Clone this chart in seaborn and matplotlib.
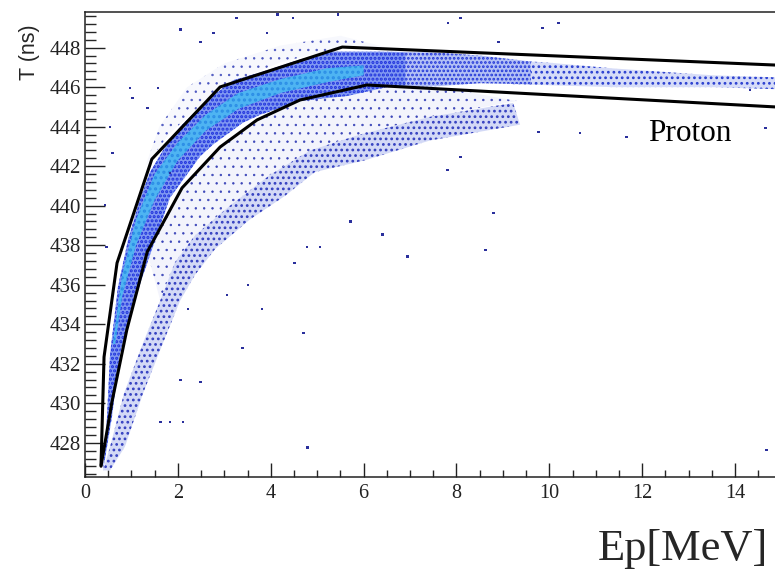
import numpy as np
import pandas as pd
import matplotlib
matplotlib.use("Agg")
import matplotlib.pyplot as plt
import seaborn as sns

# ---- graphical cut (TCutG) vertices ----
upper_cut_ep = [0.345, 0.41, 0.69, 1.44, 2.91, 5.54, 14.86]
upper_cut_t = [426.87, 432.34, 437.10, 442.36, 446.01, 448.03, 447.12]
lower_cut_ep = [0.345, 0.58, 0.90, 1.34, 2.09, 2.91, 3.705, 4.63, 6.07, 14.86]
lower_cut_t = [426.81, 430.06, 433.71, 437.66, 440.90, 442.97, 444.34, 445.35, 446.11, 445.0]

# ---- main proton band outline (dense region) ----
band_top_ep = [0.39, 0.47, 0.54, 0.71, 0.93, 1.18, 1.40, 1.68, 2.05, 2.63, 3.19, 3.92, 4.63, 5.28, 6.35, 6.9]
band_top_t = [426.6, 429.15, 432.5, 435.9, 438.3, 440.3, 441.7, 442.8, 444.0, 445.35, 446.35, 446.85, 447.4, 447.8, 447.8, 447.75]
band_bot_ep = [6.9, 6.5, 5.64, 4.63, 3.77, 3.40, 2.76, 2.48, 1.83, 1.62, 1.18, 0.75, 0.58, 0.39]
band_bot_t = [446.05, 446.0, 445.55, 445.3, 444.6, 444.2, 443.1, 442.5, 440.4, 439.0, 436.0, 432.5, 429.3, 426.6]

# fading part of main band
mid_top_ep = [6.5, 7.6, 8.51, 9.6]
mid_top_t = [447.8, 447.75, 447.6, 447.3]
mid_bot_ep = [9.6, 8.51, 7.6, 6.5]
mid_bot_t = [446.15, 446.2, 446.05, 446.0]

# sparse tail of main band
tail_top_ep = [9.2, 9.95, 11.37, 13.53, 14.86]
tail_top_t = [447.35, 447.25, 446.95, 446.6, 446.5]
tail_bot_ep = [14.86, 13.53, 11.37, 9.95, 9.2]
tail_bot_t = [445.9, 446.0, 446.0, 446.1, 446.15]

# core of the band (highest counts)
core_top_ep = [0.6, 0.8, 1.1, 1.5, 2.0, 2.6, 3.3, 4.2, 5.2, 6.0]
core_top_t = [433.0, 436.5, 439.3, 441.6, 443.2, 444.6, 445.7, 446.4, 446.95, 447.1]
core_bot_ep = [6.0, 5.2, 4.2, 3.3, 2.6, 2.0, 1.5, 1.1, 0.8, 0.65]
core_bot_t = [446.6, 446.25, 445.7, 444.9, 443.8, 442.3, 440.3, 438.0, 435.4, 433.0]

# secondary (lower) branch
sec_top_ep = [0.39, 0.54, 0.84, 1.25, 1.62, 1.94, 2.37, 3.12, 3.98, 4.85, 5.92, 7.43, 9.22]
sec_top_t = [426.6, 427.8, 430.5, 433.05, 435.2, 437.15, 438.5, 440.0, 441.55, 442.8, 443.6, 444.5, 445.2]
sec_bot_ep = [9.37, 7.43, 6.03, 4.95, 4.31, 3.55, 2.80, 2.37, 2.05, 1.68, 1.25, 0.86, 0.54]
sec_bot_t = [444.1, 443.3, 442.3, 441.7, 440.5, 439.3, 437.8, 436.5, 435.2, 433.05, 430.5, 427.8, 426.6]

# diffuse events between the cut and the secondary branch
gap_ep = [1.34, 2.09, 2.91, 3.705, 4.63, 6.07, 8.0, 9.3, 7.43, 5.92, 4.85, 3.98, 3.12, 2.37, 1.94, 1.62]
gap_t = [437.66, 440.90, 442.97, 444.34, 445.35, 446.11, 445.85, 445.3, 444.5, 443.6, 442.8, 441.55, 440.0, 438.5, 437.15, 435.2]

# sparse events just above the upper cut
halo_ep = [1.3, 1.8, 2.91, 4.2, 5.54, 6.6, 5.5, 4.2, 3.0, 2.2, 1.6]
halo_t = [442.0, 443.6, 446.01, 447.25, 448.03, 447.95, 448.6, 448.1, 447.2, 446.0, 444.0]

# isolated events
stray_ep = [4.48, 5.45, 7.82, 8.08, 10.19, 9.86, 8.90, 8.79, 5.71, 6.40, 5.06, 4.78, 4.52, 6.94,
            8.62, 8.08, 7.80, 11.67, 10.66, 9.76, 14.65, 14.32, 4.70, 4.80, 14.67, 3.81, 3.40,
            3.06, 2.48, 2.05, 2.11, 1.83, 1.62, 3.51, 2.22, 4.14, 3.27, 2.05, 2.48, 2.76, 3.92,
            1.03, 0.97, 1.57, 1.34, 0.60, 0.54, 0.43, 0.47, 1.83]
stray_t = [449.50, 449.66, 449.25, 449.50, 449.25, 449.00, 448.29, 439.63, 439.18, 438.53, 437.91,
           437.91, 437.10, 437.41, 437.76, 442.47, 441.81, 443.48, 443.68, 443.73, 443.93, 445.86,
           433.56, 427.74, 427.63, 434.77, 432.80, 435.48, 431.07, 431.18, 429.05, 429.05, 429.05,
           435.99, 434.77, 449.66, 449.50, 448.90, 448.29, 448.74, 448.74, 445.45, 445.96, 445.96,
           444.95, 442.67, 443.98, 440.03, 437.91, 441.66]

x_ticks = [0, 2, 4, 6, 8, 10, 12, 14]
y_ticks = [428, 430, 432, 434, 436, 438, 440, 442, 444, 446, 448]

sns.set_theme(style="white")
plt.rcParams["font.family"] = ["Liberation Serif", "DejaVu Serif"]

fig = plt.figure(figsize=(7.75, 5.70), dpi=100)
ax = fig.add_axes([85 / 775, 1 - 477.3 / 570, 1 - 85 / 775, (477.3 - 11.7) / 570])

# diffuse region & halo (sparse dots)
plt.rcParams["hatch.linewidth"] = 0.5
ax.fill(gap_ep, gap_t, facecolor="#f3f4fc", edgecolor="#3a44b8", hatch="..",
        linewidth=0, zorder=1)
ax.fill(halo_ep, halo_t, facecolor="#f7f8fd", edgecolor="#4a55c0", hatch="..",
        linewidth=0, zorder=1)

# secondary branch
plt.rcParams["hatch.linewidth"] = 1.2
ax.fill(sec_top_ep + sec_bot_ep, sec_top_t + sec_bot_t, facecolor="#d3d9f6",
        edgecolor="#3440c0", hatch="...", linewidth=0, zorder=2)

# sparse tail
ax.fill(tail_top_ep + tail_bot_ep, tail_top_t + tail_bot_t, facecolor="#d6dcf8",
        edgecolor="#2a3fd0", hatch="...", linewidth=0, zorder=2)

# fading middle part
plt.rcParams["hatch.linewidth"] = 1.3
ax.fill(mid_top_ep + mid_bot_ep, mid_top_t + mid_bot_t, facecolor="#b3c0f5",
        edgecolor="#2236d8", hatch="....", linewidth=0, zorder=2.5)

# main band
plt.rcParams["hatch.linewidth"] = 1.5
ax.fill(band_top_ep + band_bot_ep, band_top_t + band_bot_t, facecolor="#8098f2",
        edgecolor="#1d30dc", hatch="....", linewidth=0, zorder=3)
ax.fill(core_top_ep + core_bot_ep, core_top_t + core_bot_t, facecolor="#4eb4f2",
        edgecolor="#2c8ee6", hatch="...", linewidth=0, zorder=4)

stray = pd.DataFrame({"Ep": stray_ep, "T": stray_t})
sns.scatterplot(data=stray, x="Ep", y="T", ax=ax, marker="s", s=4, color="#2a2f9c",
                edgecolor="none", zorder=5)

up = pd.DataFrame({"Ep": upper_cut_ep, "T": upper_cut_t})
lo = pd.DataFrame({"Ep": lower_cut_ep, "T": lower_cut_t})
sns.lineplot(data=up, x="Ep", y="T", ax=ax, sort=False, estimator=None, color="black",
             linewidth=2.2, zorder=6)
sns.lineplot(data=lo, x="Ep", y="T", ax=ax, sort=False, estimator=None, color="black",
             linewidth=2.2, zorder=6)

ax.set_xlim(0, 14.86)
ax.set_ylim(426.25, 449.82)
ax.set_xticks(x_ticks)
ax.set_yticks(y_ticks)
ax.set_xticks(np.arange(0, 14.86, 0.5), minor=True)
ax.set_yticks(np.arange(426.4, 449.8, 0.4), minor=True)
ax.tick_params(axis="x", which="major", direction="in", length=10, width=1.0, pad=5,
               labelsize=14.5, colors="#222222", bottom=True)
ax.tick_params(axis="x", which="minor", direction="in", length=5, width=1.0, bottom=True)
ax.tick_params(axis="y", which="major", direction="in", length=14.5, width=1.0, pad=3,
               labelsize=15, colors="#222222", left=True)
ax.tick_params(axis="y", which="minor", direction="in", length=8, width=1.0, left=True)
ax.set_xlabel("")
ax.set_ylabel("")
for side in ["left", "bottom", "top"]:
    ax.spines[side].set_color("#222222")
    ax.spines[side].set_linewidth(1.1)
ax.spines["right"].set_visible(False)

ax.text(12.12, 443.28, "Proton", fontsize=22.5, color="black", ha="left", va="baseline",
        family=["Liberation Serif"])
fig.text(768 / 775, 1 - 560 / 570, "Ep[MeV]", fontsize=32, ha="right", va="baseline",
         family=["Liberation Serif"])
fig.text(30 / 775, 1 - 24 / 570, "T (ns)", fontsize=15.5, rotation=90, ha="center", va="top",
         family=["Liberation Sans", "DejaVu Sans"])

fig.savefig("out.png", dpi=100)
